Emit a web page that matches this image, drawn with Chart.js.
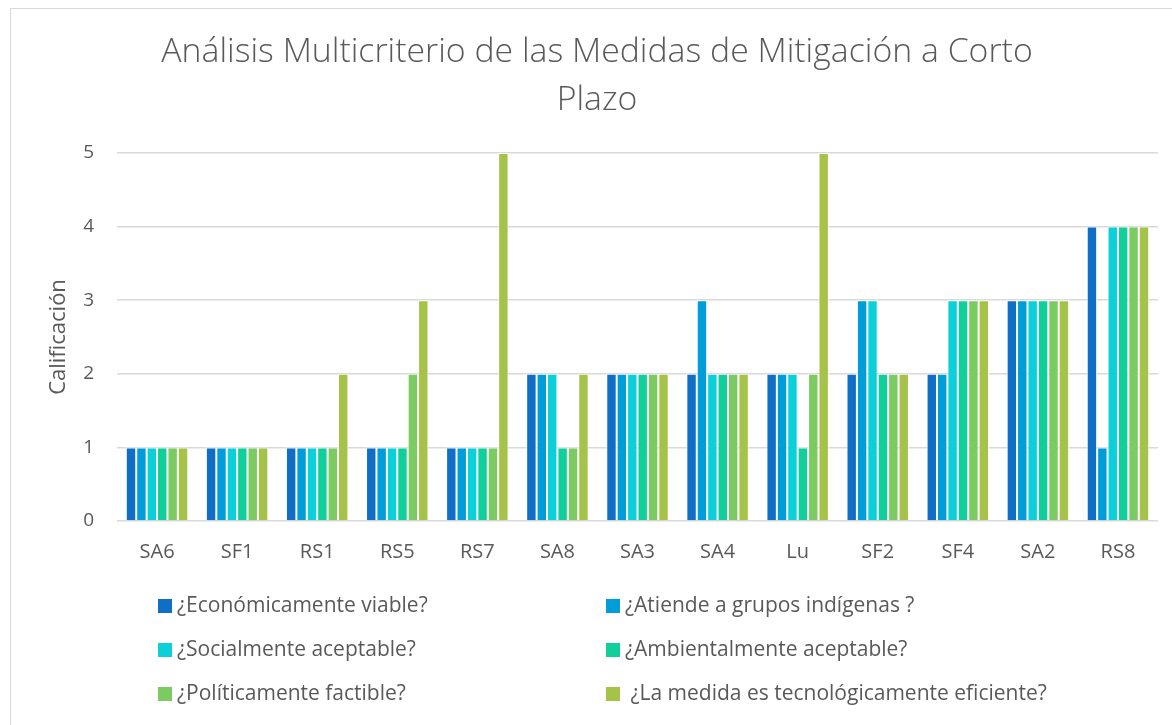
<!DOCTYPE html>
<html>
<head>
<meta charset="utf-8">
<script src="https://cdn.jsdelivr.net/npm/chart.js@4.4.1/dist/chart.umd.min.js"></script>
<style>
  html, body { margin: 0; padding: 0; background: #fff; }
  #wrap { position: relative; width: 1172px; height: 725px; }
  #frame { position: absolute; left: 10px; top: 8px; right: -2px; bottom: -2px; border: 1px solid #d9d9d9; pointer-events: none; }
</style>
</head>
<body>
<div id="wrap">
  <canvas id="chart" width="1172" height="725"></canvas>
  <div id="frame"></div>
</div>
<script>
// categorías (medidas de mitigación)
const medidas = ["SA6", "SF1", "RS1", "RS5", "RS7", "SA8", "SA3", "SA4", "Lu", "SF2", "SF4", "SA2", "RS8"];

// criterios (series)
const criterios = [
  "¿Económicamente viable?",
  "¿Atiende a grupos indígenas ?",
  "¿Socialmente aceptable?",
  "¿Ambientalmente aceptable?",
  "¿Políticamente factible?",
  " ¿La medida es tecnológicamente eficiente?"
];

// calificaciones por criterio
const economico   = [1, 1, 1, 1, 1, 2, 2, 2, 2, 2, 2, 3, 4];
const indigenas   = [1, 1, 1, 1, 1, 2, 2, 3, 2, 3, 2, 3, 1];
const social      = [1, 1, 1, 1, 1, 2, 2, 2, 2, 3, 3, 3, 4];
const ambiental   = [1, 1, 1, 1, 1, 1, 2, 2, 1, 2, 3, 3, 4];
const politico    = [1, 1, 1, 2, 1, 1, 2, 2, 2, 2, 3, 3, 4];
const tecnologico = [1, 1, 2, 3, 5, 2, 2, 2, 5, 2, 3, 3, 4];

const colores = ["#0f6fc6", "#009dd9", "#0bd0d9", "#10cf9b", "#7cca62", "#a5c249"];
const series = [economico, indigenas, social, ambiental, politico, tecnologico];

const textColor = "#595959";
const fontFam = "'Open Sans', 'Noto Sans', sans-serif";

// leyenda en dos columnas (Chart.js no lo hace solo)
const legendGrid = {
  id: "legendGrid",
  afterDraw(chart) {
    const ctx = chart.ctx;
    const cols = [158, 606];
    const rows = [606, 650, 694];
    ctx.save();
    ctx.font = "400 21px " + fontFam;
    ctx.textBaseline = "middle";
    chart.data.datasets.forEach((ds, i) => {
      const x = cols[i % 2];
      const y = rows[Math.floor(i / 2)];
      ctx.fillStyle = ds.backgroundColor;
      ctx.fillRect(x, y - 7, 14, 14);
      ctx.fillStyle = textColor;
      ctx.fillText(ds.label, x + 19, y);
    });
    ctx.restore();
  }
};

const ctx = document.getElementById("chart").getContext("2d");
new Chart(ctx, {
  type: "bar",
  data: {
    labels: medidas,
    datasets: criterios.map((c, i) => ({
      label: c,
      data: series[i],
      backgroundColor: colores[i],
      borderColor: "rgba(255,255,255,0.85)",
      borderWidth: 1,
      categoryPercentage: 0.78,
      barPercentage: 1.0
    }))
  },
  options: {
    responsive: false,
    animation: false,
    layout: { padding: { left: 36, right: 14, top: 0, bottom: 144 } },
    plugins: {
      legend: { display: false },
      tooltip: { enabled: false },
      title: {
        display: true,
        text: ["Análisis Multicriterio de las Medidas de Mitigación a Corto", "Plazo"],
        color: textColor,
        font: { family: fontFam, size: 33.8, weight: 300, lineHeight: 1.42 },
        padding: { top: 28, bottom: 29 }
      }
    },
    scales: {
      x: {
        grid: { display: false, drawTicks: false },
        border: { display: false },
        ticks: { color: textColor, font: { family: fontFam, size: 20 }, padding: 19 },
        afterFit(scale) { scale.height = 60; }
      },
      y: {
        min: 0,
        max: 5,
        ticks: { stepSize: 1, color: textColor, font: { family: fontFam, size: 19 }, padding: 23 },
        grid: { color: "#d9d9d9", lineWidth: 1.5, drawTicks: false },
        border: { display: false },
        title: {
          display: true,
          text: "Calificación",
          color: textColor,
          font: { family: fontFam, size: 22 },
          padding: { top: 10, bottom: 0 }
        },
        afterFit(scale) { scale.width = 81; }
      }
    }
  },
  plugins: [legendGrid]
});
</script>
</body>
</html>
